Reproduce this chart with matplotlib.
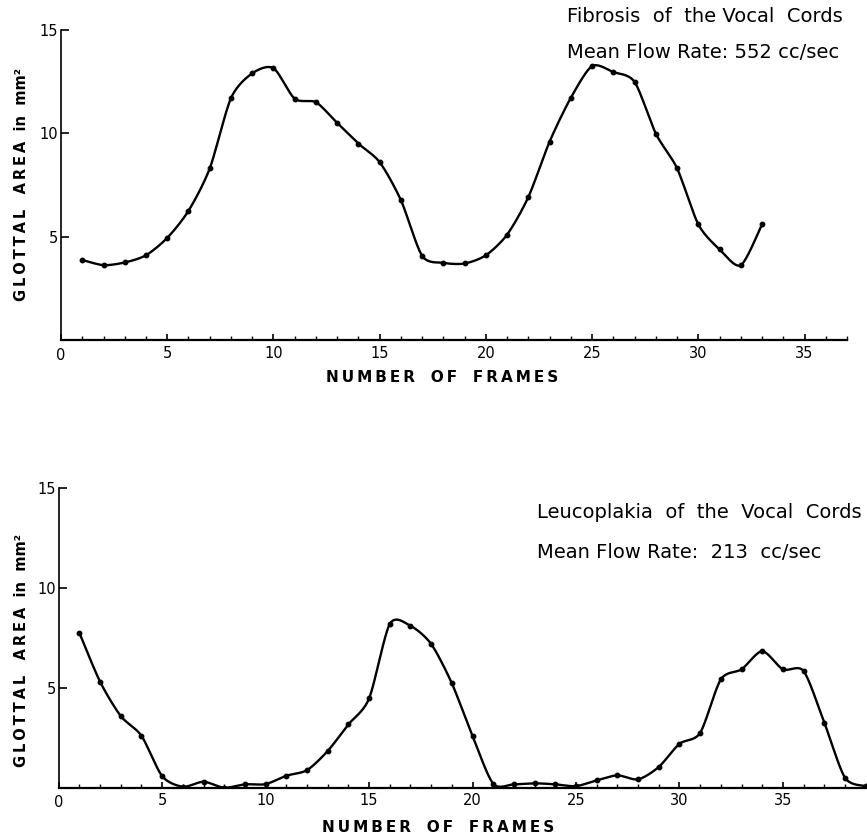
import matplotlib
matplotlib.use("Agg")
import matplotlib.pyplot as plt
import numpy as np

# frame numbers and glottal area (mm^2)
frames_fib = list(range(1, 34))
area_fib = [3.87, 3.62, 3.75, 4.1, 4.94, 6.25, 8.3, 11.7, 12.9, 13.15,
            11.67, 11.5, 10.5, 9.5, 8.6, 6.76, 4.07, 3.73, 3.7, 4.1,
            5.1, 6.92, 9.6, 11.72, 13.25, 12.96, 12.48, 9.98, 8.3, 5.59,
            4.38, 3.62, 5.6]

frames_leu = list(range(1, 40))
area_leu = [7.76, 5.31, 3.59, 2.6, 0.58, 0.05, 0.3, 0.0, 0.17, 0.18,
            0.6, 0.88, 1.84, 3.17, 4.47, 8.2, 8.11, 7.2, 5.23, 2.59,
            0.2, 0.17, 0.22, 0.17, 0.08, 0.37, 0.62, 0.42, 1.04, 2.2,
            2.75, 5.43, 5.93, 6.84, 5.93, 5.84, 3.26, 0.5, 0.08]

xticks = [0, 5, 10, 15, 20, 25, 30, 35]
yticks = [5, 10, 15]

TS = '\u2009'
ylabel = TS.join("GLOTTAL") + "   " + TS.join("AREA") + "  in  mm²"
xlabel = "   ".join(TS.join(w) for w in ["NUMBER", "OF", "FRAMES"])

plt.rcParams['font.family'] = ['DejaVu Sans']


# smooth curve through the points (cardinal spline), like the hand drawn trace
def smooth(x, y, n=20, c=0.4):
    x = np.asarray(x, float)
    y = np.asarray(y, float)
    px = np.concatenate([[x[0]], x, [x[-1]]])
    py = np.concatenate([[y[0]], y, [y[-1]]])
    t = np.linspace(0, 1, n, endpoint=False)
    h00 = 2 * t ** 3 - 3 * t ** 2 + 1
    h10 = t ** 3 - 2 * t ** 2 + t
    h01 = -2 * t ** 3 + 3 * t ** 2
    h11 = t ** 3 - t ** 2
    xs, ys = [], []
    for i in range(1, len(px) - 2):
        for p, out in ((px, xs), (py, ys)):
            p0, p1, p2, p3 = p[i - 1], p[i], p[i + 1], p[i + 2]
            m1 = c * (p2 - p0)
            m2 = c * (p3 - p1)
            out.append(h00 * p1 + h10 * m1 + h01 * p2 + h11 * m2)
    xs.append([x[-1]])
    ys.append([y[-1]])
    return np.concatenate(xs), np.concatenate(ys)


def draw(ax, x, y, xmax):
    sx, sy = smooth(x, y)
    ax.plot(sx, sy, color='black', lw=1.7, solid_capstyle='round')
    ax.plot(x, y, 'o', color='black', ms=3.2)
    ax.set_xlim(0, xmax)
    ax.set_ylim(0, 15)
    ax.spines['top'].set_visible(False)
    ax.spines['right'].set_visible(False)
    ax.spines['left'].set_linewidth(1.2)
    ax.spines['bottom'].set_linewidth(1.6)
    ax.set_xticks(xticks)
    ax.set_xticks(range(0, int(xmax) + 1), minor=True)
    ax.set_yticks(yticks)
    ax.tick_params(axis='y', direction='in', length=6, width=1.2, labelsize=10.5, pad=2)
    ax.tick_params(axis='x', which='major', direction='in', length=4, width=1.2, labelsize=10.5, pad=4)
    ax.tick_params(axis='x', which='minor', direction='in', length=3, width=1)
    ax.set_xticklabels([''] + [str(v) for v in xticks[1:]])
    ax.text(0.0, -0.025, '0', transform=ax.transAxes, ha='center', va='top', fontsize=10.5)
    return ax


fig = plt.figure(figsize=(8.67, 8.38), dpi=100)

ax1 = fig.add_axes([0.0704, 0.5943, 0.9066, 0.37])
draw(ax1, frames_fib, area_fib, 37)
fig.text(567 / 867, 1 - 16 / 838, "Fibrosis  of  the Vocal  Cords", fontsize=14, va='center', ha='left')
fig.text(567 / 867, 1 - 52 / 838, "Mean Flow Rate: 552 cc/sec", fontsize=14, va='center', ha='left')
fig.text(442 / 867, 1 - 378 / 838, xlabel, fontsize=11, fontweight='bold', ha='center', va='center')
fig.text(22 / 867, 1 - 184 / 838, ylabel, fontsize=10.5, fontweight='bold', rotation=90,
         ha='center', va='center')

ax2 = fig.add_axes([0.0677, 0.06, 0.932, 0.3573])
draw(ax2, frames_leu, area_leu, 39.05)
fig.text(537 / 867, 1 - 513 / 838, "Leucoplakia  of  the  Vocal  Cords", fontsize=14, va='center', ha='left')
fig.text(537 / 867, 1 - 552 / 838, "Mean Flow Rate:  213  cc/sec", fontsize=14, va='center', ha='left')
fig.text(438 / 867, 1 - 827 / 838, xlabel, fontsize=11, fontweight='bold', ha='center', va='center')
fig.text(22 / 867, 1 - 650 / 838, ylabel, fontsize=10.5, fontweight='bold', rotation=90,
         ha='center', va='center')

fig.savefig('out.png', dpi=100)
